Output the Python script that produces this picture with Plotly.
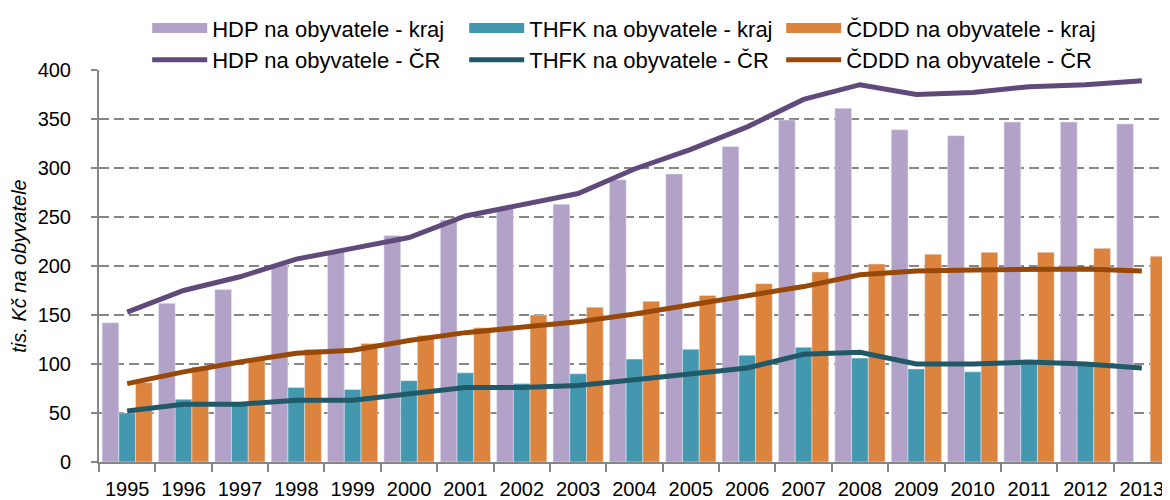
import plotly.graph_objects as go

years = [str(y) for y in range(1995, 2014)]
hdp_kraj = [142, 162, 176, 201, 215, 231, 247, 259, 263, 288, 294, 322, 349, 361, 339, 333, 347, 347, 345]
thfk_kraj = [50, 64, 60, 76, 74, 83, 91, 80, 90, 105, 115, 109, 117, 106, 95, 92, 103, 99, None]
cddd_kraj = [81, 97, 104, 115, 121, 129, 137, 150, 158, 164, 170, 182, 194, 202, 212, 214, 214, 218, 210]
hdp_cr = [153, 175, 189, 207, 218, 229, 251, 262, 274, 299, 319, 342, 370, 385, 375, 377, 383, 385, 389]
thfk_cr = [52, 59, 59, 63, 63, 70, 76, 76, 78, 84, 90, 96, 110, 112, 100, 100, 102, 100, 96]
cddd_cr = [80, 92, 102, 111, 114, 124, 132, 138, 143, 151, 160, 170, 179, 191, 195, 196, 197, 197, 195]
y_ticks = [0, 50, 100, 150, 200, 250, 300, 350, 400]

FONT = "Liberation Sans, Arial, sans-serif"

bar_series = [
    ("HDP na obyvatele - kraj", hdp_kraj, "#B3A2C7"),
    ("THFK na obyvatele - kraj", thfk_kraj, "#4398B0"),
    ("ČDDD na obyvatele - kraj", cddd_kraj, "#DC843E"),
]
line_series = [
    ("HDP na obyvatele - ČR", hdp_cr, "#604A7B"),
    ("THFK na obyvatele - ČR", thfk_cr, "#215968"),
    ("ČDDD na obyvatele - ČR", cddd_cr, "#984807"),
]

fig = go.Figure()
for name, vals, col in bar_series:
    fig.add_trace(go.Bar(x=years, y=vals, name=name, marker_color=col,
                         legendgroup=name, showlegend=False))
# legend entries for the bars drawn as wide swatches (no data marks)
for name, vals, col in bar_series:
    fig.add_trace(go.Scatter(x=[None], y=[None], name=name, mode="lines",
                             line=dict(color=col, width=13), legendgroup=name,
                             hoverinfo="skip"))
for name, vals, col in line_series:
    fig.add_trace(go.Scatter(x=years, y=vals, name=name, mode="lines",
                             line=dict(color=col, width=5)))

fig.update_layout(
    width=1162, height=492,
    margin=dict(l=91, r=0, t=62, b=38, autoexpand=False),
    paper_bgcolor="white", plot_bgcolor="white",
    font=dict(family=FONT, size=20, color="#000000"),
    barmode="group", bargap=0.11, bargroupgap=0,
    showlegend=True,
    legend=dict(orientation="h", x=0.045, y=1.16, xanchor="left", yanchor="top",
                bgcolor="white", borderwidth=0, entrywidth=247, entrywidthmode="pixels",
                itemwidth=55,
                font=dict(family=FONT, size=22, color="#000000"),
                traceorder="normal", tracegroupgap=0),
    xaxis=dict(type="category", range=[-0.5, 18.5], showgrid=False, zeroline=False,
               showline=True, linecolor="#868686", linewidth=2,
               ticks="outside", tickson="boundaries", ticklen=8, tickwidth=2, tickcolor="#868686",
               ticklabelstandoff=8, tickfont=dict(family=FONT, size=20, color="#000000")),
    yaxis=dict(range=[0, 400], tickvals=y_ticks, showgrid=True, gridcolor="#868686",
               gridwidth=2, griddash="10px,5px", zeroline=False,
               showline=True, linecolor="#868686", linewidth=2,
               ticks="outside", ticklen=6, tickwidth=2, tickcolor="#868686",
               ticklabelstandoff=16, tickfont=dict(family=FONT, size=20, color="#000000"),
               title=dict(text="tis. Kč na obyvatele", standoff=8,
                          font=dict(family=FONT, size=20, color="#000000", style="italic"))),
)

fig.write_html("out.html")
